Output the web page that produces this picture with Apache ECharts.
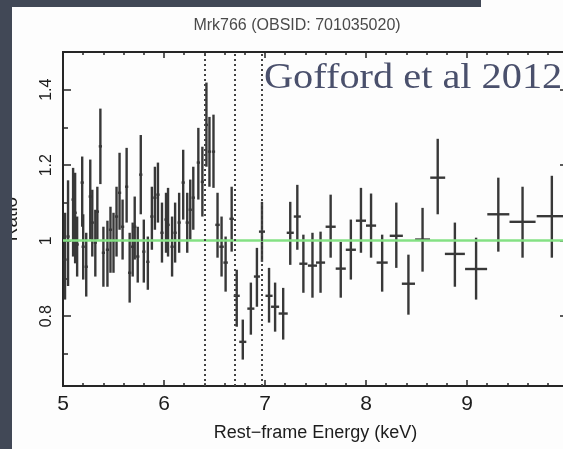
<!DOCTYPE html>
<html>
<head>
<meta charset="utf-8">
<script src="https://cdn.jsdelivr.net/npm/echarts@6/dist/echarts.min.js"></script>
<style>
  html, body { margin: 0; padding: 0; background: #fdfdfd; }
  #chart { width: 563px; height: 449px; }
</style>
</head>
<body>
<div id="chart"></div>
<script>
// Spectral ratio (data / model) for Mrk766, with energy bin half-widths and 1-sigma ranges
const energy = [
  5.02, 5.05, 5.10, 5.12, 5.14, 5.19, 5.20, 5.23, 5.27, 5.29,
  5.32, 5.34, 5.37, 5.40, 5.44, 5.47, 5.50, 5.53, 5.56, 5.59,
  5.63, 5.66, 5.69, 5.71, 5.74, 5.77, 5.80, 5.84, 5.88, 5.91,
  5.94, 5.98, 6.02, 6.04, 6.08, 6.11, 6.15, 6.19, 6.23, 6.26,
  6.29, 6.34, 6.38, 6.42, 6.45, 6.49, 6.53, 6.57, 6.61, 6.67,
  6.72, 6.78, 6.86, 6.92, 6.97, 7.04, 7.10, 7.18, 7.25, 7.32,
  7.38, 7.47, 7.55, 7.65, 7.75, 7.85, 7.95, 8.05, 8.16, 8.30,
  8.42, 8.56, 8.71, 8.88, 9.09, 9.31, 9.55, 9.84
];
const ratio = [
  0.950, 1.011, 1.109, 1.074, 0.990, 1.154, 0.984, 0.931, 1.117, 1.048,
  0.995, 1.077, 1.250, 0.968, 0.976, 1.029, 1.000, 1.064, 1.127, 1.037,
  1.143, 0.915, 0.984, 1.037, 0.958, 1.175, 0.971, 0.944, 1.064, 1.114,
  1.122, 1.021, 1.056, 1.042, 0.984, 1.021, 1.048, 1.154, 1.048, 1.082,
  1.114, 1.207, 1.156, 1.307, 1.236, 1.236, 1.042, 0.984, 0.942, 1.058,
  0.854, 0.732, 0.820, 0.905, 1.024, 0.854, 0.825, 0.807, 1.021, 1.064,
  0.939, 0.934, 0.942, 1.037, 0.926, 0.976, 1.053, 1.040, 0.942, 1.013,
  0.886, 1.003, 1.167, 0.965, 0.925, 1.070, 1.050, 1.065
];
const ratioLow = [
  0.844, 0.880, 0.958, 0.940, 0.905, 1.037, 0.897, 0.852, 1.003, 0.958,
  0.905, 1.003, 1.150, 0.878, 0.878, 0.915, 0.915, 0.958, 1.029, 0.950,
  1.048, 0.836, 0.905, 0.950, 0.889, 1.070, 0.889, 0.870, 0.976, 1.029,
  1.048, 0.942, 0.968, 0.958, 0.905, 0.942, 0.968, 1.056, 0.968, 1.003,
  1.029, 1.109, 1.064, 1.196, 1.143, 1.140, 0.955, 0.905, 0.865, 0.971,
  0.772, 0.685, 0.751, 0.825, 0.944, 0.783, 0.759, 0.738, 0.936, 0.976,
  0.862, 0.849, 0.862, 0.955, 0.849, 0.897, 0.968, 0.955, 0.865, 0.928,
  0.804, 0.918, 1.070, 0.878, 0.844, 0.971, 0.955, 0.955
];
const ratioHigh = [
  1.074, 1.160, 1.193, 1.180, 1.064, 1.223, 1.070, 1.021, 1.215, 1.135,
  1.082, 1.143, 1.350, 1.037, 1.053, 1.090, 1.074, 1.143, 1.233, 1.109,
  1.246, 1.021, 1.048, 1.117, 1.037, 1.280, 1.056, 1.011, 1.143, 1.196,
  1.207, 1.101, 1.127, 1.140, 1.064, 1.101, 1.127, 1.241, 1.127, 1.162,
  1.196, 1.299, 1.249, 1.419, 1.328, 1.334, 1.127, 1.064, 1.011, 1.143,
  0.923, 0.791, 0.889, 0.981, 1.103, 0.928, 0.889, 0.875, 1.103, 1.148,
  1.016, 1.021, 1.024, 1.122, 0.997, 1.056, 1.140, 1.125, 1.016, 1.101,
  0.963, 1.087, 1.270, 1.048, 1.008, 1.167, 1.143, 1.172
];
const binHalfWidth = [
  0.016, 0.016, 0.016, 0.016, 0.016, 0.016, 0.016, 0.016, 0.016, 0.016,
  0.016, 0.016, 0.016, 0.016, 0.016, 0.016, 0.016, 0.016, 0.016, 0.016,
  0.016, 0.016, 0.016, 0.016, 0.016, 0.016, 0.016, 0.016, 0.016, 0.016,
  0.016, 0.016, 0.016, 0.016, 0.016, 0.016, 0.016, 0.016, 0.016, 0.016,
  0.016, 0.016, 0.016, 0.016, 0.016, 0.016, 0.022, 0.022, 0.022, 0.022,
  0.030, 0.035, 0.035, 0.030, 0.030, 0.035, 0.040, 0.045, 0.035, 0.035,
  0.040, 0.045, 0.045, 0.050, 0.050, 0.050, 0.050, 0.050, 0.055, 0.065,
  0.065, 0.074, 0.074, 0.099, 0.109, 0.109, 0.129, 0.150
];

// Reference level and line energies (Fe K alpha, Fe XXV, Fe XXVI)
const unityLevel = 1;
const lineEnergies = [6.4, 6.7, 6.97];

// Axis ticks and labels
const energyRange = [5, 10];
const energyLabels = [5, 6, 7, 8, 9];
const ratioRange = [0.615, 1.5];
const ratioMajorTicks = [0.8, 1.0, 1.2, 1.4];
const ratioMinorTicks = [0.7, 0.9, 1.1, 1.3, 1.5];

const AXIS_COLOR = '#262626';
const BAR_COLOR = '#383838';
const SANS = "'Liberation Sans', Arial, sans-serif";

const points = energy.map((e, i) => [e, ratio[i], ratioLow[i], ratioHigh[i], binHalfWidth[i]]);

function crossBar(params, api) {
  const e = api.value(0), r = api.value(1), lo = api.value(2), hi = api.value(3), hw = api.value(4);
  const top = api.coord([e, hi]);
  const bot = api.coord([e, lo]);
  const left = api.coord([e - hw, r]);
  const right = api.coord([e + hw, r]);
  const style = { stroke: BAR_COLOR, lineWidth: 2.4 };
  return {
    type: 'group',
    children: [
      { type: 'line', shape: { x1: top[0], y1: top[1], x2: bot[0], y2: bot[1] }, style },
      { type: 'line', shape: { x1: left[0], y1: left[1], x2: right[0], y2: right[1] }, style }
    ]
  };
}

function energyAxis(position, withLabels) {
  return {
    type: 'value', position: position,
    min: energyRange[0], max: energyRange[1], interval: 1,
    axisLine: { show: true, onZero: false, lineStyle: { color: AXIS_COLOR, width: 2 } },
    axisTick: { show: true, inside: true, length: 6, lineStyle: { color: AXIS_COLOR, width: 1.5 } },
    minorTick: { show: true, splitNumber: 5, length: 3, lineStyle: { color: AXIS_COLOR, width: 1.5 } },
    splitLine: { show: false },
    minorSplitLine: { show: false },
    axisLabel: withLabels ? {
      show: true, customValues: energyLabels, margin: 8,
      fontSize: 21, color: '#1c1c1c', fontFamily: SANS
    } : { show: false },
    name: withLabels ? 'Rest\u2212frame Energy (keV)' : '',
    nameLocation: 'middle', nameGap: 38,
    nameTextStyle: { fontSize: 18, color: '#1c1c1c', fontFamily: SANS }
  };
}

function ratioAxis(position, ticks, len, withLabels) {
  return {
    type: 'value', position: position,
    min: ratioRange[0], max: ratioRange[1],
    axisLine: { show: true, onZero: false, lineStyle: { color: AXIS_COLOR, width: 2 } },
    axisTick: { show: true, inside: true, length: len, customValues: ticks, lineStyle: { color: AXIS_COLOR, width: 1.5 } },
    splitLine: { show: false },
    axisLabel: withLabels ? {
      show: true, customValues: ratioMajorTicks, rotate: 90, margin: 8,
      fontSize: 16, color: '#1c1c1c', fontFamily: SANS
    } : { show: false },
    name: withLabels ? 'Ratio' : '',
    nameLocation: 'middle', nameGap: 42,
    nameTextStyle: { fontSize: 19, color: '#1c1c1c', fontFamily: SANS }
  };
}

const chart = echarts.init(document.getElementById('chart'), null, { renderer: 'canvas' });

chart.setOption({
  backgroundColor: '#fdfdfd',
  animation: false,
  title: {
    text: 'Mrk766 (OBSID: 701035020)',
    left: 292, top: 13, textAlign: 'center',
    textStyle: { fontSize: 16, fontWeight: 'normal', color: '#4a4a4a', fontFamily: SANS }
  },
  grid: { left: 63, top: 52, right: -5, bottom: 63, outerBoundsMode: 'none', containLabel: false },
  xAxis: [energyAxis('bottom', true), energyAxis('top', false)],
  yAxis: [
    ratioAxis('left', ratioMajorTicks, 8, true),
    ratioAxis('left', ratioMinorTicks, 5, false),
    ratioAxis('right', ratioMajorTicks, 8, false),
    ratioAxis('right', ratioMinorTicks, 5, false)
  ],
  series: [
    {
      type: 'line', data: [], silent: true, z: 1,
      markLine: {
        silent: true, symbol: 'none', label: { show: false }, animation: false,
        data: [
          { yAxis: unityLevel, lineStyle: { color: '#84e184', width: 2.5, type: 'solid' } }
        ].concat(lineEnergies.map(v => ({ xAxis: v, lineStyle: { color: '#444', width: 2, type: [2, 3] } })))
      }
    },
    {
      type: 'custom', z: 3,
      renderItem: crossBar,
      encode: { x: 0, y: 1 },
      data: points
    }
  ],
  graphic: [
    { type: 'rect', z: 100, shape: { x: 0, y: 0, width: 12, height: 449 }, style: { fill: '#414856' } },
    { type: 'rect', z: 100, shape: { x: 0, y: 0, width: 481, height: 7 }, style: { fill: '#414856' } },
    {
      type: 'text', z: 90, x: 264, y: 79, scaleX: 1.12,
      style: {
        text: 'Gofford et al 2012',
        font: '36px "Liberation Serif", "Times New Roman", serif',
        fill: '#4a506c',
        align: 'left', verticalAlign: 'middle',
        textAlign: 'left', textVerticalAlign: 'middle'
      }
    }
  ]
});
</script>
</body>
</html>
